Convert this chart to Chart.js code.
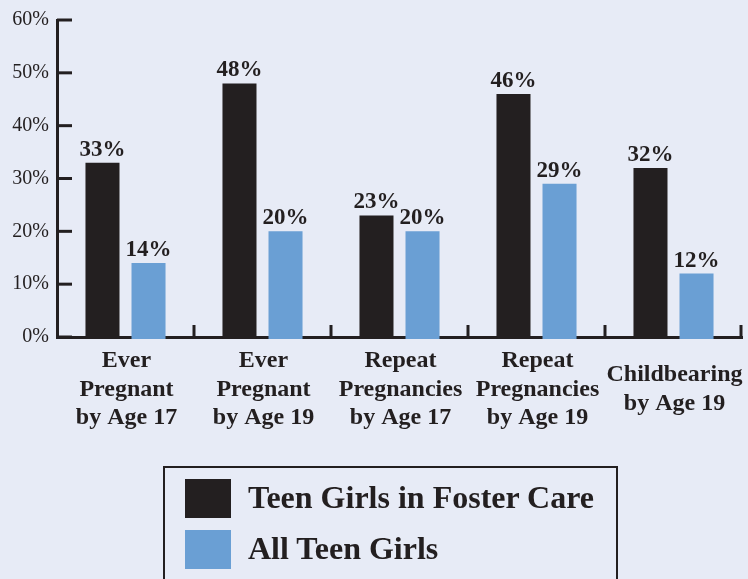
<!DOCTYPE html>
<html>
<head>
<meta charset="utf-8">
<script src="https://cdn.jsdelivr.net/npm/chart.js"></script>
<style>
  html, body { margin: 0; padding: 0; background: #e7ebf6; overflow: hidden; }
  #wrap { position: relative; width: 748px; height: 579px; }
  #legend { position: absolute; left: 163px; top: 466px; width: 451px; height: 150px; border: 2px solid #231f20; }
  .sw { position: absolute; left: 185px; width: 46px; height: 39px; }
  .lt { position: absolute; left: 248px; font: bold 32px "Liberation Serif", serif; line-height: 39px; color: #231f20; white-space: nowrap; }
</style>
</head>
<body>
<div id="wrap">
  <canvas id="chart" width="748" height="579"></canvas>
  <div id="legend"></div>
  <div class="sw" style="top:479px;background:#231f20"></div>
  <div class="lt" style="top:478px">Teen Girls in Foster Care</div>
  <div class="sw" style="top:530px;background:#6a9fd4"></div>
  <div class="lt" style="top:529px">All Teen Girls</div>
</div>
<script>
const categories = [
  ["Ever", "Pregnant", "by Age 17"],
  ["Ever", "Pregnant", "by Age 19"],
  ["Repeat", "Pregnancies", "by Age 17"],
  ["Repeat", "Pregnancies", "by Age 19"],
  ["Childbearing", "by Age 19"]
];
const seriesNames = ["Teen Girls in Foster Care", "All Teen Girls"];
const fosterCare = [33, 48, 23, 46, 32];
const allTeens = [14, 20, 20, 29, 12];
const yTicks = [0, 10, 20, 30, 40, 50, 60];

const ink = "#231f20";

// tick marks, value labels and category labels
const extras = {
  id: "extras",
  afterDatasetsDraw(chart) {
    const ctx = chart.ctx;
    const x = chart.scales.x;
    const y = chart.scales.y;
    const area = chart.chartArea;
    ctx.save();
    ctx.strokeStyle = ink;
    ctx.lineWidth = 3;

    yTicks.forEach(v => {
      const py = y.getPixelForValue(v);
      ctx.beginPath();
      ctx.moveTo(area.left, py);
      ctx.lineTo(area.left + 15, py);
      ctx.stroke();
    });

    const w = (area.right - area.left) / categories.length;
    for (let i = 1; i <= categories.length; i++) {
      const px = Math.min(area.left + i * w, area.right - 1);
      ctx.beginPath();
      ctx.moveTo(px, area.bottom - 12);
      ctx.lineTo(px, area.bottom + 1);
      ctx.stroke();
    }

    ctx.fillStyle = ink;
    ctx.textAlign = "center";
    ctx.textBaseline = "alphabetic";
    ctx.font = "bold 23px 'Liberation Serif', serif";
    chart.data.datasets.forEach((ds, di) => {
      chart.getDatasetMeta(di).data.forEach((bar, i) => {
        ctx.fillText(ds.data[i] + "%", bar.x, bar.y - 7);
      });
    });

    ctx.font = "bold 24px 'Liberation Serif', serif";
    const lh = 28.5;
    categories.forEach((lines, i) => {
      const cx = x.getPixelForValue(i) + 1;
      const start = area.bottom + 30 + (3 - lines.length) * lh / 2;
      lines.forEach((t, k) => ctx.fillText(t, cx, start + k * lh));
    });
    ctx.restore();
  }
};

new Chart(document.getElementById("chart"), {
  type: "bar",
  data: {
    labels: categories,
    datasets: [
      { label: seriesNames[0], data: fosterCare, backgroundColor: ink, base: -0.4, clip: false },
      { label: seriesNames[1], data: allTeens, backgroundColor: "#6a9fd4", base: -0.4, clip: false }
    ]
  },
  options: {
    responsive: false,
    animation: false,
    categoryPercentage: 0.672,
    barPercentage: 0.739,
    layout: { padding: { left: 0, top: 18, right: 6, bottom: 242 } },
    plugins: { legend: { display: false }, tooltip: { enabled: false } },
    scales: {
      x: {
        grid: { display: false, drawTicks: false },
        ticks: { display: false },
        border: { color: ink, width: 3 }
      },
      y: {
        min: 0,
        max: 60,
        afterFit: s => { s.width = 57; },
        grid: { display: false, drawTicks: false },
        border: { color: ink, width: 3 },
        ticks: {
          stepSize: 10,
          padding: 8,
          color: ink,
          font: { family: "'Liberation Serif', serif", size: 20 },
          callback: v => v + "%"
        }
      }
    }
  },
  plugins: [extras]
});
</script>
</body>
</html>
